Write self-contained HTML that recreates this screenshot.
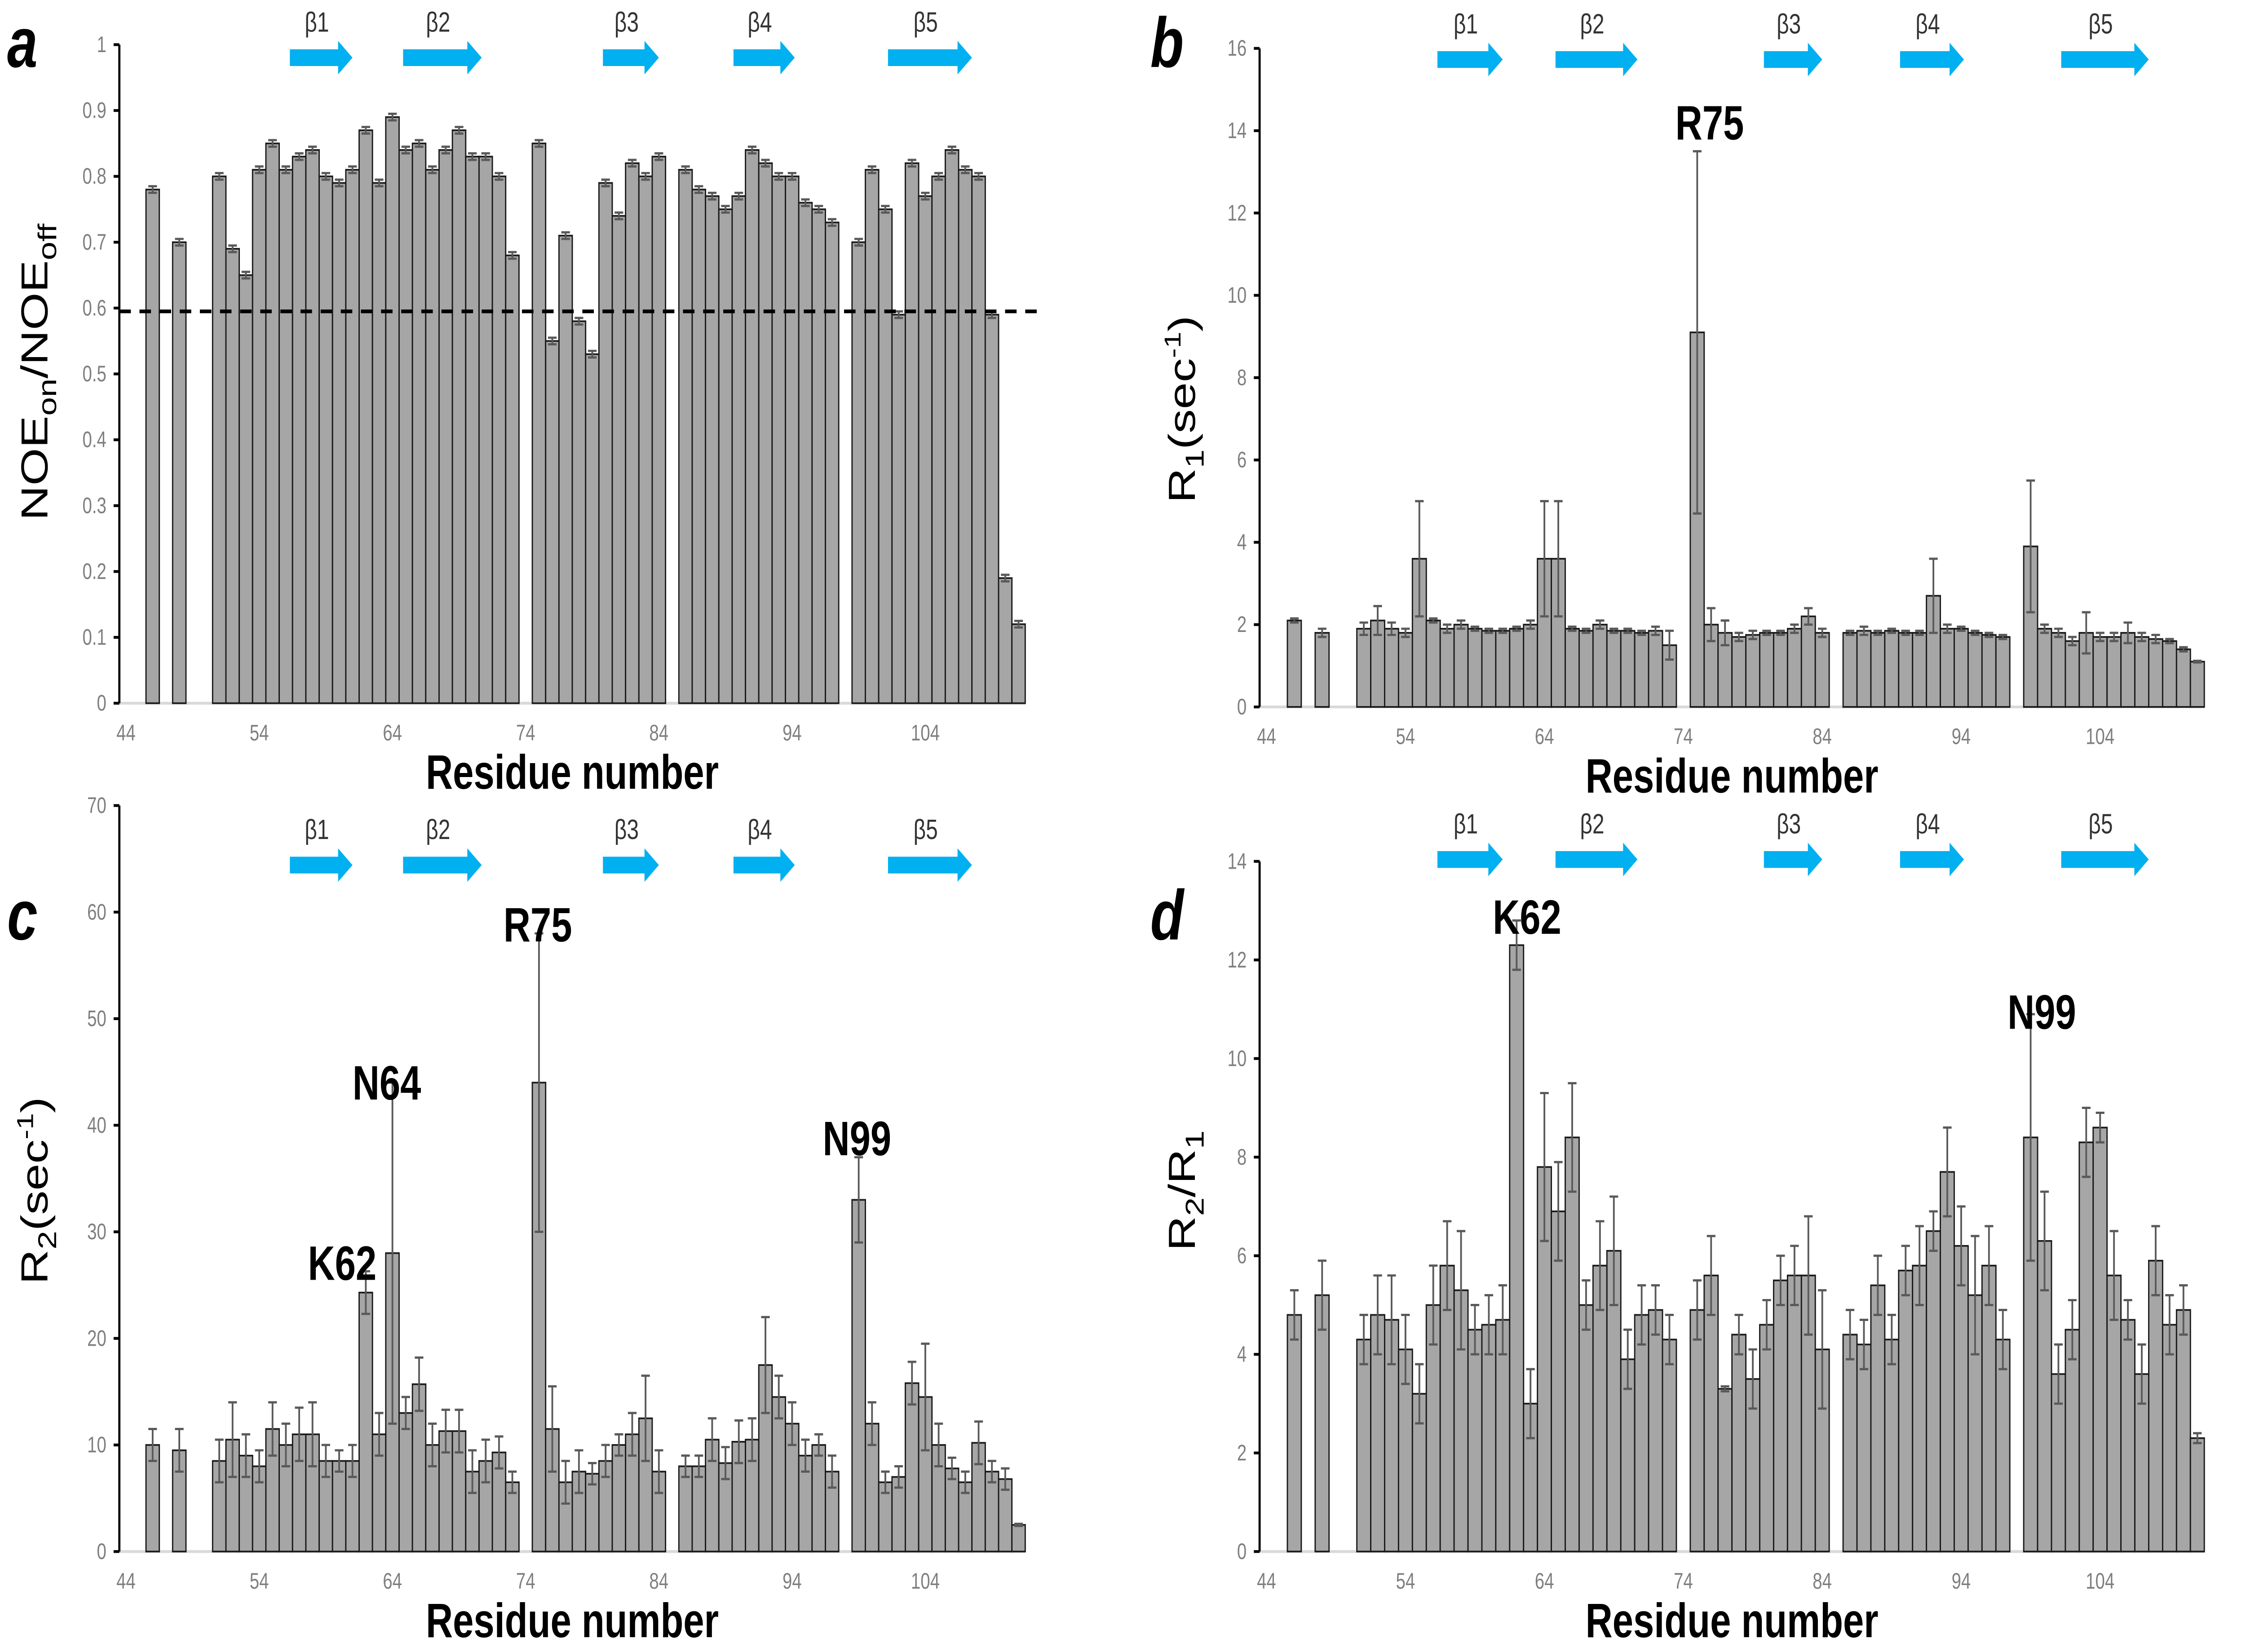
<!DOCTYPE html>
<html><head><meta charset="utf-8">
<style>
html,body{margin:0;padding:0;background:#fff;width:100%;height:100%;overflow:hidden;}
svg{display:block;position:absolute;left:0;top:0;width:100vw;height:100vh;}
text{font-family:"Liberation Sans",sans-serif;}
</style></head>
<body>
<svg id="fig" viewBox="0 0 1562 888" preserveAspectRatio="none" xmlns="http://www.w3.org/2000/svg"><g id="root"></g></svg>
<script>
// ---- data ----
const residues = [];
for (let r = 44; r <= 111; r++) residues.push(r);

const noeRes = [46,48,51,52,53,54,55,56,57,58,59,60,61,62,63,64,65,66,67,68,69,70,71,72,73,75,76,77,78,79,80,81,82,83,84,86,87,88,89,90,91,92,93,94,95,96,97,99,100,101,102,103,104,105,106,107,108,109,110,111];
const noeVal = [0.78,0.70,0.80,0.69,0.65,0.81,0.85,0.81,0.83,0.84,0.80,0.79,0.81,0.87,0.79,0.89,0.84,0.85,0.81,0.84,0.87,0.83,0.83,0.80,0.68,0.85,0.55,0.71,0.58,0.53,0.79,0.74,0.82,0.80,0.83,0.81,0.78,0.77,0.75,0.77,0.84,0.82,0.80,0.80,0.76,0.75,0.73,0.70,0.81,0.75,0.59,0.82,0.77,0.80,0.84,0.81,0.80,0.59,0.19,0.12];
const noeErr = noeVal.map(()=>0.005);

const relaxRes = noeRes;
const r1Val = [2.1,1.8,1.9,2.1,1.9,1.8,3.6,2.1,1.9,2.0,1.9,1.85,1.85,1.9,2.0,3.6,3.6,1.9,1.85,2.0,1.85,1.85,1.8,1.85,1.5,9.1,2.0,1.8,1.7,1.75,1.8,1.8,1.9,2.2,1.8,1.8,1.85,1.8,1.85,1.8,1.8,2.7,1.9,1.9,1.8,1.75,1.7,3.9,1.9,1.8,1.6,1.8,1.7,1.7,1.8,1.7,1.65,1.6,1.4,1.1];
const r1Err = [0.05,0.1,0.15,0.35,0.15,0.1,1.4,0.05,0.1,0.1,0.05,0.05,0.05,0.05,0.1,1.4,1.4,0.05,0.05,0.1,0.05,0.05,0.05,0.1,0.35,4.4,0.4,0.3,0.1,0.1,0.05,0.05,0.1,0.2,0.1,0.05,0.1,0.05,0.05,0.05,0.05,0.9,0.1,0.05,0.05,0.05,0.05,1.6,0.1,0.1,0.1,0.5,0.1,0.1,0.25,0.1,0.1,0.05,0.05,0.02];

const r2Val = [10,9.5,8.5,10.5,9,8,11.5,10,11,11,8.5,8.5,8.5,24.3,11,28,13,15.7,10,11.3,11.3,7.5,8.5,9.3,6.5,44,11.5,6.5,7.5,7.3,8.5,10,11,12.5,7.5,8,8,10.5,8.3,10.3,10.5,17.5,14.5,12,9,10,7.5,33,12,6.5,7,15.8,14.5,10,7.8,6.5,10.2,7.5,6.8,2.5];
const r2Err = [1.5,2,2,3.5,2,1.5,2.5,2,2.5,3,1.5,1,1.5,2,2,16,1.5,2.5,2,2,2,2,2,1.5,1,14,4,2,2,1,1.5,1,2,4,2,1,1,2,1.5,2,2,4.5,2,2,1.5,1,1.5,4,2,1,1,2,5,2,1,1,2,1,1,0.1];

const ratioVal = [4.8,5.2,4.3,4.8,4.7,4.1,3.2,5.0,5.8,5.3,4.5,4.6,4.7,12.3,3.0,7.8,6.9,8.4,5.0,5.8,6.1,3.9,4.8,4.9,4.3,4.9,5.6,3.3,4.4,3.5,4.6,5.5,5.6,5.6,4.1,4.4,4.2,5.4,4.3,5.7,5.8,6.5,7.7,6.2,5.2,5.8,4.3,8.4,6.3,3.6,4.5,8.3,8.6,5.6,4.7,3.6,5.9,4.6,4.9,2.3];
const ratioErr = [0.5,0.7,0.5,0.8,0.9,0.7,0.6,0.8,0.9,1.2,0.5,0.6,0.7,0.5,0.7,1.5,1.0,1.1,0.5,0.9,1.1,0.6,0.6,0.5,0.5,0.6,0.8,0.05,0.4,0.6,0.5,0.5,0.6,1.2,1.2,0.5,0.5,0.6,0.5,0.5,0.8,0.4,0.9,0.8,1.2,0.8,0.6,2.5,1.0,0.6,0.6,0.7,0.3,0.9,0.4,0.6,0.7,0.6,0.5,0.1];

const strandNames = ["β1","β2","β3","β4","β5"];
const strandStart = [56.3,64.8,79.8,89.6,101.2];
const strandEnd = [61,70.7,84,94.2,107.5];
const xTickLabels = [44,54,64,74,84,94,104];

// ---- drawing ----
const NS = "http://www.w3.org/2000/svg";
const svg = document.getElementById('root');
function mk(tag, attrs, parent, text) {
  const e = document.createElementNS(NS, tag);
  for (const k in attrs) e.setAttribute(k, attrs[k]);
  if (text !== undefined) e.textContent = text;
  (parent || svg).appendChild(e);
  return e;
}

function panel(cfg) {
  const g = mk('g', {});
  
  
  const n = residues.length;
  const cw = (cfg.x1 - cfg.x0) / n;
  const xC = r => cfg.x0 + (r - residues[0] + 0.5) * cw;
  const yS = v => cfg.y0 - (v - 0) / cfg.yMax * (cfg.y0 - cfg.yTop);

  const xa = mk('line', {x1: cfg.x0, x2: cfg.x1, y1: cfg.y0, y2: cfg.y0, stroke: '#d9d9d9', 'stroke-width': 1.5}, g);
  
  

  cfg.res.forEach((r, i) => {
    const v = cfg.vals[i];
    const b = mk('rect', {x: xC(r) - cw/2, y: yS(v), width: cw, height: cfg.y0 - yS(v), fill: '#a6a6a6', stroke: '#1a1a1a', 'stroke-width': 0.9}, g);
    
    
  });
  cfg.res.forEach((r, i) => {
    const v = cfg.vals[i], e = cfg.errs[i];
    const x = xC(r);
    const eg = mk('g', {stroke: '#595959', 'stroke-width': 1.2}, g);
    
    
    mk('line', {x1: x, x2: x, y1: yS(v - e), y2: yS(v + e)}, eg);
    mk('line', {x1: x - 3, x2: x + 3, y1: yS(v + e), y2: yS(v + e)}, eg);
    mk('line', {x1: x - 3, x2: x + 3, y1: yS(v - e), y2: yS(v - e)}, eg);
  });

  const ya = mk('line', {x1: cfg.x0, x2: cfg.x0, y1: cfg.y0, y2: cfg.yTop, stroke: '#000', 'stroke-width': 1.5}, g);
  
  
  for (let t = 0; t <= cfg.yMax + 1e-9; t += cfg.yStep) {
    const y = yS(t);
    mk('line', {x1: cfg.x0 - 4, x2: cfg.x0, y1: y, y2: y, stroke: '#000', 'stroke-width': 1.5}, g);
    const lbl = cfg.yDec ? (Math.round(t*10)/10).toString() : String(Math.round(t));
    const tl = mk('text', {x: cfg.x0 - 9, y: y + 4, 'text-anchor': 'end', 'font-size': 12, fill: '#7f7f7f'}, g, lbl);
    
    
  }
  xTickLabels.forEach(t => {
    const tl = mk('text', {x: xC(t), y: cfg.y0 + 20, 'text-anchor': 'middle', 'font-size': 12, fill: '#7f7f7f'}, g, String(t));
    
    
  });

  strandNames.forEach((s, i) => {
    const xa0 = xC(strandStart[i]) , xa1 = xC(strandEnd[i]);
    const y = cfg.arrowY;
    const ag = mk('g', {}, g);
    
    
    mk('polygon', {points: `${xa0},${y-4.5} ${xa1-10},${y-4.5} ${xa1-10},${y-9} ${xa1},${y} ${xa1-10},${y+9} ${xa1-10},${y+4.5} ${xa0},${y+4.5}`, fill: '#00b0f0'}, ag);
    mk('text', {x: (xa0 + xa1)/2 - 3, y: y - 14, 'text-anchor': 'middle', 'font-size': 15, fill: '#333', 'font-family': '"Liberation Serif",serif'}, ag, s);
  });

  const xt = mk('text', {x: (cfg.x0 + cfg.x1)/2, y: cfg.y0 + 46, 'text-anchor': 'middle', 'font-size': 26, 'font-weight': 'bold', fill: '#000'}, g, 'Residue number');
  
  
  const yt = mk('text', {transform: `translate(${cfg.ytX},${cfg.ytY}) rotate(-90)`, 'text-anchor': 'middle', 'font-size': 26, fill: '#000'}, g);
  
  
  yt.innerHTML = cfg.yTitle;
  const pl = mk('text', {x: cfg.letterX, y: cfg.letterY, 'font-size': 38, 'font-weight': 'bold', 'font-style': 'italic', 'font-family': '"Liberation Serif",serif', fill: '#000'}, g, cfg.letter);
  
  
  (cfg.notes || []).forEach(nt => {
    const t = mk('text', {x: nt[1], y: nt[2], 'text-anchor': 'middle', 'font-size': 26, 'font-weight': 'bold', fill: '#000'}, g, nt[0]);
    
    
  });
  return {g, xC, yS};
}

const pa = panel({name: 'panel-a-noe', x0: 83, x1: 713, y0: 378, yTop: 24, yMax: 1, yStep: 0.1, yDec: true,
  res: noeRes, vals: noeVal, errs: noeErr, arrowY: 31, ytX: 33, ytY: 200,
  yTitle: 'NOE<tspan font-size="18" dy="6">on</tspan><tspan dy="-6">/NOE</tspan><tspan font-size="18" dy="6">off</tspan>',
  letter: 'a', letterX: 5, letterY: 36});
const dl = mk('line', {x1: 83, x2: 722, y1: pa.yS(0.595), y2: pa.yS(0.595), stroke: '#000', 'stroke-width': 2, 'stroke-dasharray': '8,6'}, pa.g);



panel({name: 'panel-b-r1', x0: 876, x1: 1533, y0: 380, yTop: 26, yMax: 16, yStep: 2,
  res: relaxRes, vals: r1Val, errs: r1Err, arrowY: 32, ytX: 831, ytY: 220,
  yTitle: 'R<tspan font-size="18" dy="6">1</tspan><tspan dy="-6">(sec</tspan><tspan font-size="16" dy="-10">-1</tspan><tspan dy="10">)</tspan>',
  letter: 'b', letterX: 800, letterY: 36, notes: [['R75', 1189, 75]]});

panel({name: 'panel-c-r2', x0: 83, x1: 713, y0: 834, yTop: 433, yMax: 70, yStep: 10,
  res: relaxRes, vals: r2Val, errs: r2Err, arrowY: 465, ytX: 33, ytY: 640,
  yTitle: 'R<tspan font-size="18" dy="6">2</tspan><tspan dy="-6">(sec</tspan><tspan font-size="16" dy="-10">-1</tspan><tspan dy="10">)</tspan>',
  letter: 'c', letterX: 5, letterY: 505,
  notes: [['K62', 238, 688], ['N64', 269, 591], ['R75', 374, 506], ['N99', 596, 621]]});

panel({name: 'panel-d-ratio', x0: 876, x1: 1533, y0: 834, yTop: 463, yMax: 14, yStep: 2,
  res: relaxRes, vals: ratioVal, errs: ratioErr, arrowY: 462, ytX: 831, ytY: 640,
  yTitle: 'R<tspan font-size="18" dy="6">2</tspan><tspan dy="-6">/R</tspan><tspan font-size="18" dy="6">1</tspan>',
  letter: 'd', letterX: 800, letterY: 505,
  notes: [['K62', 1062, 502], ['N99', 1420, 553]]});
</script>
</body></html>
